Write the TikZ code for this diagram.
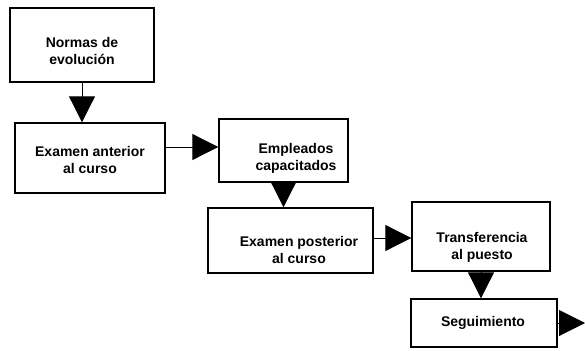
\documentclass[tikz,border=0pt]{standalone}
\usepackage{fontspec}
\setmainfont{Liberation Sans}
\usetikzlibrary{arrows.meta}
\begin{document}
\begin{tikzpicture}[x=1pt,y=-1pt,
  box/.style={draw=black,line width=1.4pt,minimum width=#1,inner sep=0pt},
  lbl/.style={font=\fontsize{14}{17}\selectfont\bfseries,align=center,inner sep=0pt},
  arr/.style={line width=1pt,-{Triangle[length=26pt,width=26pt]}}]
\useasboundingbox (0,0) rectangle (585,350);
\node[box=144pt,minimum height=74pt] (b1) at (82,45) {};
\node[box=150pt,minimum height=70pt] (b2) at (90,158) {};
\node[box=129pt,minimum height=63pt] (b3) at (283.5,150.5) {};
\node[box=165pt,minimum height=65pt] (b4) at (290.5,240.5) {};
\node[box=138pt,minimum height=69pt] (b5) at (481,236.5) {};
\node[box=146pt,minimum height=48pt] (b6) at (484,323) {};
\node[lbl] (t1) at (82,51) {Normas de\\evolución};
\node[lbl] (t2) at (90,160) {Examen anterior\\al curso};
\node[lbl] (t3) at (296,158.5) {Empleados\\capacitados};
\node[lbl] (t4) at (299,250) {Examen posterior\\al curso};
\node[lbl] (t5) at (482,247.5) {Transferencia\\al puesto};
\node[lbl] (t6) at (483,323) {Seguimiento};
\coordinate (out) at (585,323);
\draw[arr] (b1.south) -- (b1.south |- b2.north);
\draw[arr] (b2.east |- 0,147) -- (b3.west |- 0,147);
\draw[arr] (b3.south) -- (b3.south |- b4.north);
\draw[arr] (b4.east |- 0,238) -- (b5.west |- 0,238);
\draw[arr] (b5.south) -- (b5.south |- b6.north);
\draw[arr] (b6.east) -- (out);
\end{tikzpicture}
\end{document}
